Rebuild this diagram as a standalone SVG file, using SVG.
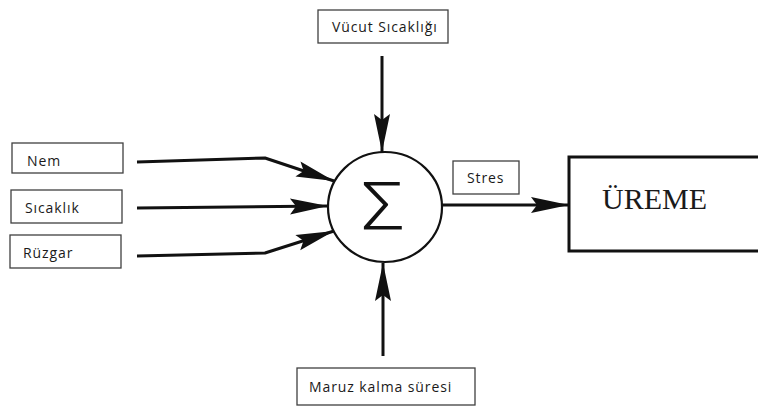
<svg xmlns="http://www.w3.org/2000/svg" width="758" height="407" viewBox="0 0 758 407">
  <style>
    .box { fill: #ffffff; stroke: #404040; stroke-width: 1.3; }
    .lbl { font-family: "Open Sans", "Liberation Sans", sans-serif; font-size: 14px; letter-spacing: 0.9px; fill: #1a1a1a; }
    .wire { fill: none; stroke: #111111; stroke-width: 3; stroke-linejoin: round; marker-end: url(#head); }
    .heavy { fill: none; stroke: #111111; stroke-width: 3; }
  </style>
  <defs>
    <marker id="head" markerUnits="userSpaceOnUse" viewBox="-40 -10 42 20" markerWidth="42" markerHeight="20" refX="0" refY="0" orient="auto">
      <path d="M0,0 L-38,-8 L-32,0 L-38,8 Z" fill="#111111"/>
    </marker>
  </defs>

  <rect width="758" height="407" fill="#ffffff"/>

  <!-- connectors -->
  <g id="connectors">
    <polyline class="wire" points="137,162 265,158 334,181"/>
    <polyline class="wire" points="137,208 328,206"/>
    <polyline class="wire" points="137,256 265,253 334,231"/>
    <line class="wire" x1="382" y1="56" x2="382" y2="152"/>
    <line class="wire" x1="383" y1="356" x2="383" y2="263"/>
    <line class="wire" x1="442" y1="205" x2="569" y2="205"/>
  </g>

  <!-- summing junction -->
  <g id="sum">
    <ellipse cx="385" cy="207" rx="57" ry="55" fill="#ffffff" stroke="#111111" stroke-width="2.2"/>
    <text transform="translate(383 230) scale(1.15 1)" text-anchor="middle" font-family="Roboto, 'DejaVu Sans', sans-serif" font-weight="300" font-size="67" fill="#111111">Σ</text>
  </g>

  <g id="vucut">
    <rect class="box" x="318" y="10" width="130" height="33"/>
    <text class="lbl" x="332" y="32">Vücut Sıcaklığı</text>
  </g>

  <g id="nem">
    <rect class="box" x="12" y="143" width="111" height="30"/>
    <text class="lbl" x="27" y="166">Nem</text>
  </g>

  <g id="sicaklik">
    <rect class="box" x="11" y="190" width="111" height="33"/>
    <text class="lbl" x="25" y="213">Sıcaklık</text>
  </g>

  <g id="ruzgar">
    <rect class="box" x="10" y="235" width="111" height="33"/>
    <text class="lbl" x="23" y="258">Rüzgar</text>
  </g>

  <g id="stres">
    <rect class="box" x="453" y="161" width="66" height="33"/>
    <text class="lbl" x="467" y="183">Stres</text>
  </g>

  <g id="maruz">
    <rect class="box" x="297" y="368" width="178" height="37"/>
    <text class="lbl" x="309" y="392">Maruz kalma süresi</text>
  </g>

  <!-- output block, open on the right where it runs off the page -->
  <g id="ureme">
    <polyline class="heavy" points="760,157 569,157 569,251 760,251"/>
    <text x="602" y="209" font-family="'Liberation Serif', serif" font-size="30" fill="#1a1a1a">ÜREME</text>
  </g>
</svg>
